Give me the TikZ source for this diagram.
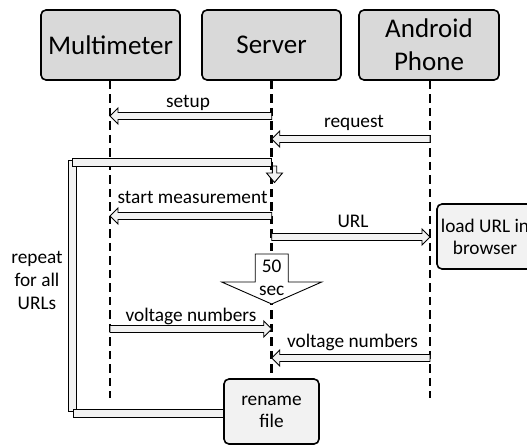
\documentclass[tikz,border=0pt]{standalone}
\usepackage{fontspec}
\setmainfont{Carlito}
\usetikzlibrary{calc}
\definecolor{hdrgray}{HTML}{D9D9D9}
\definecolor{boxgray}{HTML}{F2F2F2}
\definecolor{arrgray}{HTML}{F2F2F2}
\newcommand\harrow[2]{%
  \path[blk] let \p1=(#1), \p2=(#2), \n1={ifthenelse(\x2>\x1,1,-1)} in
    ({\x1},{\y1+3.5pt}) -- ({\x2-\n1*8pt},{\y1+3.5pt}) -- ({\x2-\n1*8pt},{\y1+8pt})
    -- ({\x2},{\y1}) -- ({\x2-\n1*8pt},{\y1-8pt}) -- ({\x2-\n1*8pt},{\y1-3.5pt})
    -- ({\x1},{\y1-3.5pt}) -- cycle;}
\begin{document}
\begin{tikzpicture}[x=1pt,y=-1pt,
  hdr/.style={draw, line width=1.6pt, rounded corners=5pt, fill=hdrgray,
    minimum width=139pt, minimum height=70pt, align=center, inner sep=0pt,
    font=\fontsize{27}{33}\selectfont},
  act/.style={draw, line width=1.6pt, rounded corners=5pt, fill=boxgray,
    align=center, inner sep=0pt, font=\fontsize{19.3}{22}\selectfont},
  life/.style={line width=2.8pt, dash pattern=on 8.5pt off 5pt},
  blk/.style={draw, line width=0.9pt, fill=arrgray, line join=miter},
  lbl/.style={anchor=base, inner sep=0pt, font=\fontsize{19.3}{22}\selectfont}]
\useasboundingbox (0,0) rectangle (527,445);

% boxes
\node[hdr] (mm) at (110.5,45) {Multimeter};
\node[hdr] (sv) at (271.5,45) {Server};
\node[hdr, minimum width=140pt] (ap) at (429,45) {Android\\Phone};
\node[act, minimum width=95pt, minimum height=65pt] (ren) at (271.5,411.5) {rename\\file};
\node[act, minimum width=96pt, minimum height=65pt] (ld) at (485,236.5) {load URL in\\browser};

% lifelines
\coordinate (mmend) at (110,398);
\coordinate (apend) at (430,398);
\draw[life] (mm.south -| mmend) -- (mmend);
\draw[life] (sv.south -| 271.7,0) -- (ren.north -| 271.7,0);
\draw[life] (ap.south -| apend) -- (apend);

% message end points
\coordinate (sv1) at (271.7,116); \coordinate (mm1) at (110,116);
\coordinate (ap2) at (430,139);   \coordinate (sv2) at (271.7,139);
\coordinate (sv3) at (271.7,216); \coordinate (mm3) at (110,216);
\coordinate (sv4) at (271.7,237); \coordinate (ap4) at (430,237);
\coordinate (mm5) at (110,329);   \coordinate (sv5) at (271.7,329);
\coordinate (ap6) at (430,358);   \coordinate (sv6) at (271.7,358);

\harrow{sv1}{mm1}
\harrow{ap2}{sv2}
\harrow{sv3}{mm3}
\harrow{sv4}{ap4}
\harrow{mm5}{sv5}
\harrow{ap6}{sv6}

% loop bars
\coordinate (lpT) at (271.7,166);
\coordinate (lpB) at (73,409);
\path[blk] (68,160) rectangle (76.5,411);
\path[blk] (72.7,158) rectangle (lpT);
\path[blk] (lpB) rectangle (ren.west |- 0,417);
% small down arrow
\path[blk] (274.5,166) ++(-2.2,0) -- ++(0,7) -- ++(-5.8,0) -- ++(8,9.5)
  -- ++(8,-9.5) -- ++(-5.8,0) -- ++(0,-7) -- cycle;

% 50 sec arrow
\path[blk, fill=white] (271.7,254) ++(-16.5,0) -- ++(0,28) -- ++(-33.5,0)
  -- ++(50,22) -- ++(50,-22) -- ++(-33.5,0) -- ++(0,-28) -- cycle;
\node[lbl] (t50) at (271.7,272) {50};
\node[lbl] (tsec) at (271.7,295) {sec};

% labels
\node[lbl] (lsetup) at (188,107) {setup};
\node[lbl] (lreq) at (354,127) {request};
\node[lbl] (lstart) at (192.5,203) {start measurement};
\node[lbl] (lurl) at (353,227) {URL};
\node[lbl] (lv1) at (191,321) {voltage numbers};
\node[lbl] (lv2) at (352.5,347) {voltage numbers};
\node[lbl] (r1) at (37,263) {repeat};
\node[lbl] (r2) at (37,286) {for all};
\node[lbl] (r3) at (37,309) {URLs};
\end{tikzpicture}
\end{document}
